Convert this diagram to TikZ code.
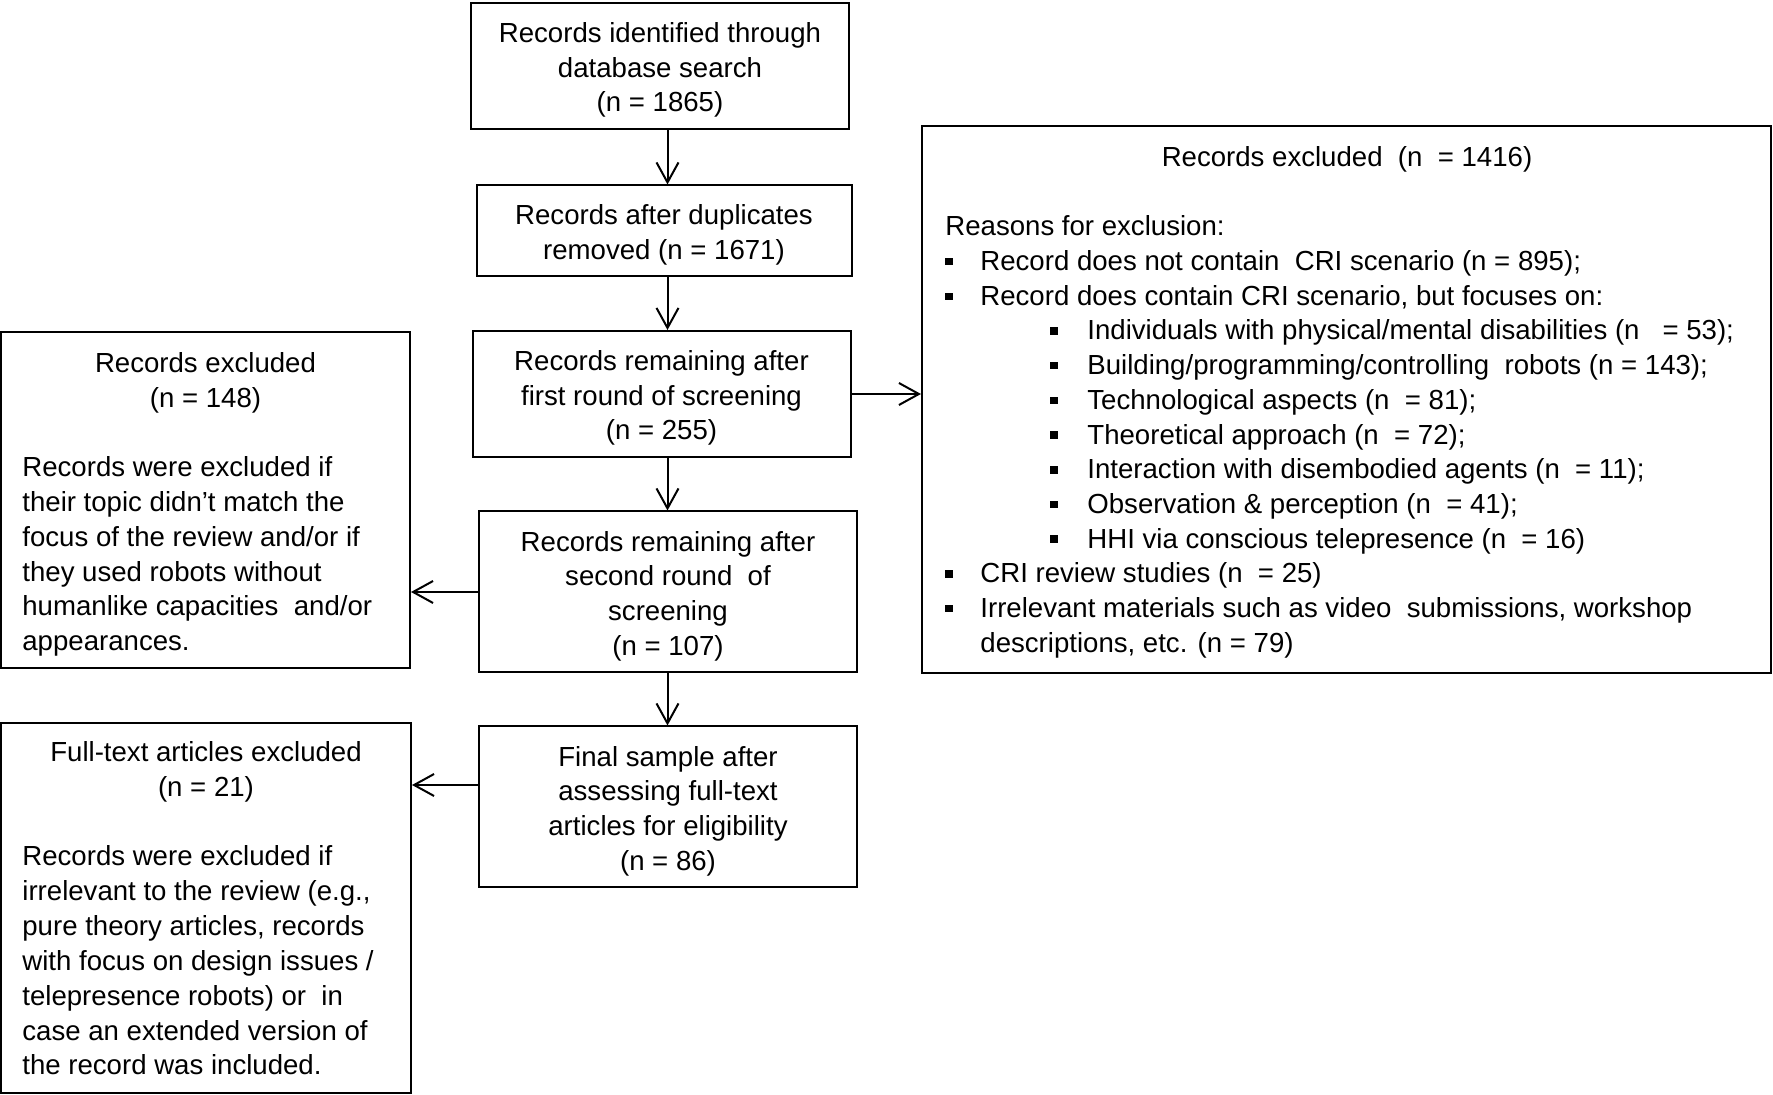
\documentclass[tikz,border=0pt]{standalone}
\usepackage{fontspec}
\setmainfont{Liberation Sans}
\usetikzlibrary{arrows.meta}
\begin{document}
\begin{tikzpicture}[x=0.5pt,y=-0.5pt,
  every node/.style={font=\fontsize{13.8pt}{17.35pt}\selectfont},
  box/.style={draw, line width=1pt, inner sep=0pt},
  btxt/.style={align=center, inner sep=0pt},
  txt/.style={anchor=base west, inner sep=0pt, yshift=-1pt},
  ctxt/.style={anchor=base, inner sep=0pt, yshift=-1pt},
  sq/.style={fill, minimum size=3.75pt, inner sep=0pt, yshift=-1pt},
  arr/.style={-{Straight Barb[length=10pt,width=11pt]}, line width=1pt}]
\useasboundingbox (0,0) rectangle (1773,1095);

% main column
\node[box, minimum width=189pt, minimum height=63pt] (b1) at (660,66) {};
\node[btxt] (b1t) at ([yshift=-2pt]b1.center)
  {Records identified through\\database search\\(n = 1865)};
\node[box, minimum width=187.5pt, minimum height=45.5pt] (b2) at (664,231) {};
\node[btxt] (b2t) at ([yshift=-2pt]b2.center)
  {Records after duplicates\\removed (n = 1671)};
\node[box, minimum width=189pt, minimum height=63pt] (b3) at (661.5,394) {};
\node[btxt] (b3t) at ([yshift=-2pt]b3.center)
  {Records remaining after\\first round of screening\\(n = 255)};
\node[box, minimum width=189pt, minimum height=80.5pt] (b4) at (668,592) {};
\node[btxt] (b4t) at ([yshift=-2pt]b4.center)
  {Records remaining after\\second round\ \ of\\screening\\(n = 107)};
\node[box, minimum width=189pt, minimum height=80.5pt] (b5) at (668,807) {};
\node[btxt] (b5t) at ([yshift=-2pt]b5.center)
  {Final sample after\\assessing full-text\\articles for eligibility\\(n = 86)};

% left boxes
\node[box, minimum width=204.5pt, minimum height=168pt] (la) at (205.5,500.5) {};
\node[ctxt] (la1) at (205.5,371) {Records excluded};
\node[ctxt] (la2) at (205.5,406) {(n = 148)};
\node[txt] (la3) at (22,475) {Records were excluded if};
\node[txt] (la4) at (22,509.7) {their topic didn’t match the};
\node[txt] (la5) at (22,544.4) {focus of the review and/or if};
\node[txt] (la6) at (22,579.1) {they used robots without};
\node[txt] (la7) at (22,613.8) {humanlike capacities\ \ and/or};
\node[txt] (la8) at (22,648.5) {appearances.};

\node[box, minimum width=205pt, minimum height=185pt] (lb) at (206,908) {};
\node[ctxt] (lb1) at (206,760) {Full-text articles excluded};
\node[ctxt] (lb2) at (206,795) {(n = 21)};
\node[txt] (lb3) at (22,864) {Records were excluded if};
\node[txt] (lb4) at (22,898.8) {irrelevant to the review (e.g.,};
\node[txt] (lb5) at (22,933.6) {pure theory articles, records};
\node[txt] (lb6) at (22,968.4) {with focus on design issues /};
\node[txt] (lb7) at (22,1003.2) {telepresence robots) or\ \ in};
\node[txt] (lb8) at (22,1038) {case an extended version of};
\node[txt] (lb9) at (22,1072.8) {the record was included.};

% right box
\node[box, minimum width=424.5pt, minimum height=273.5pt] (rb) at (1346.5,399.5) {};
\node[ctxt] (rt) at (1347,165) {Records excluded\ \ (n\ \ = 1416)};
\node[txt] (r0) at (945,234) {Reasons for exclusion:};
\node[txt] (r1) at (980,268.7) {Record does not contain\ \ CRI scenario (n = 895);};
\node[txt] (r2) at (980,303.4) {Record does contain CRI scenario, but focuses on:};
\node[txt] (r3) at (1087,338) {Individuals with physical/mental disabilities (n\ \ \ = 53);};
\node[txt] (r4) at (1087,372.7) {Building/programming/controlling\ \ robots (n = 143);};
\node[txt] (r5) at (1087,407.4) {Technological aspects (n\ \ = 81);};
\node[txt] (r6) at (1087,442.1) {Theoretical approach (n\ \ = 72);};
\node[txt] (r7) at (1087,476.8) {Interaction with disembodied agents (n\ \ = 11);};
\node[txt] (r8) at (1087,511.4) {Observation \& perception (n\ \ = 41);};
\node[txt] (r9) at (1087,546.1) {HHI via conscious telepresence (n\ \ = 16)};
\node[txt] (r10) at (980,580.8) {CRI review studies (n\ \ = 25)};
\node[txt] (r11) at (980,615.5) {Irrelevant materials such as video\ \ submissions, workshop};
\node[txt] (r12) at (980,650.2) {descriptions, etc. (n = 79)};

% bullets
\node[sq] (q1) at (949,259.7) {};
\node[sq] (q2) at (949,294.4) {};
\node[sq] (q3) at (1054,329) {};
\node[sq] (q4) at (1054,363.7) {};
\node[sq] (q5) at (1054,398.4) {};
\node[sq] (q6) at (1054,433.1) {};
\node[sq] (q7) at (1054,467.8) {};
\node[sq] (q8) at (1054,502.4) {};
\node[sq] (q9) at (1054,537.1) {};
\node[sq] (q10) at (949,571.8) {};
\node[sq] (q11) at (949,606.5) {};

% connectors
\coordinate (ax) at (667.5,0);
\coordinate (h5) at (0,785);
\draw[arr] (b1.south -| ax) -- (b2.north -| ax);
\draw[arr] (b2.south -| ax) -- (b3.north -| ax);
\draw[arr] (b3.south -| ax) -- (b4.north -| ax);
\draw[arr] (b4.south -| ax) -- (b5.north -| ax);
\draw[arr] (b3.east) -- (b3.east -| rb.west);
\draw[arr] (b4.west) -- (b4.west -| la.east);
\draw[arr] (b5.west |- h5) -- (lb.east |- h5);
\end{tikzpicture}
\end{document}
